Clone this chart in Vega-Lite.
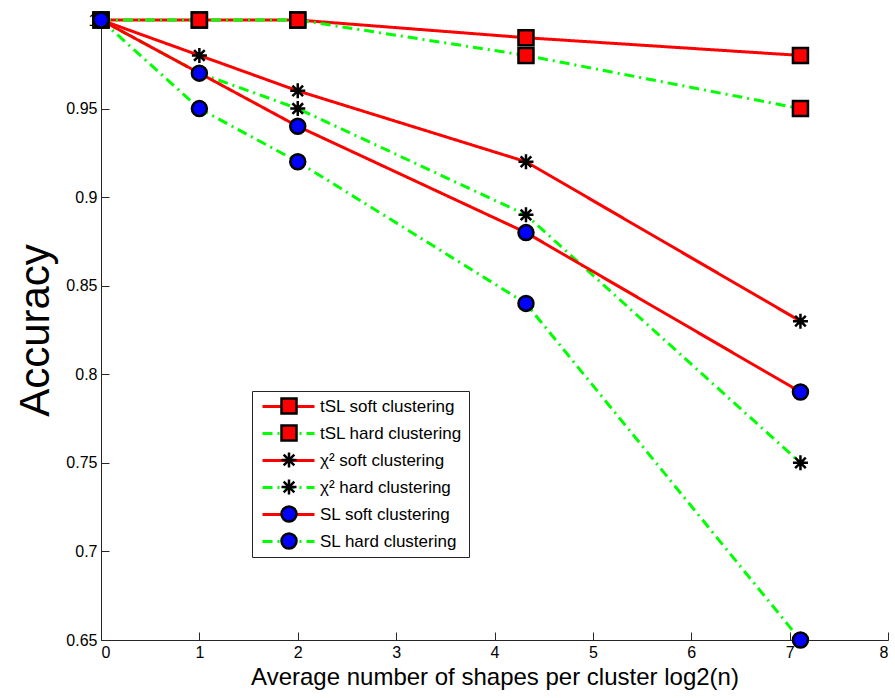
{
  "$schema": "https://vega.github.io/schema/vega-lite/v6.json",
  "width": 787,
  "height": 620,
  "autosize": {"type": "none"},
  "padding": {"left": 101, "top": 20, "right": 7, "bottom": 58},
  "background": "white",
  "config": {
    "view": {"stroke": null},
    "font": "Liberation Sans",
    "axis": {
      "grid": false,
      "domainColor": "#262626",
      "domainWidth": 1,
      "tickColor": "#262626",
      "tickSize": -8,
      "tickWidth": 1,
      "labelColor": "#000000",
      "labelFontSize": 16,
      "labelFont": "Liberation Sans",
      "titleFont": "Liberation Sans",
      "titleFontWeight": "normal",
      "titleColor": "#000000"
    }
  },
  "data": {
    "values": [
      {"x": 0, "acc": 1.0, "series": "tSL soft clustering", "marker": "tSL soft"},
      {"x": 1, "acc": 1.0, "series": "tSL soft clustering", "marker": "tSL soft"},
      {"x": 2, "acc": 1.0, "series": "tSL soft clustering", "marker": "tSL soft"},
      {"x": 4.32, "acc": 0.99, "series": "tSL soft clustering", "marker": "tSL soft"},
      {"x": 7.11, "acc": 0.98, "series": "tSL soft clustering", "marker": "tSL soft"},
      {"x": 0, "acc": 1.0, "series": "tSL hard clustering", "marker": "tSL hard"},
      {"x": 1, "acc": 1.0, "series": "tSL hard clustering", "marker": "tSL hard"},
      {"x": 2, "acc": 1.0, "series": "tSL hard clustering", "marker": "tSL hard"},
      {"x": 4.32, "acc": 0.98, "series": "tSL hard clustering", "marker": "tSL hard"},
      {"x": 7.11, "acc": 0.95, "series": "tSL hard clustering", "marker": "tSL hard"},
      {"x": 0, "acc": 1.0, "series": "χ² soft clustering", "marker": "chi2 soft"},
      {"x": 1, "acc": 0.98, "series": "χ² soft clustering", "marker": "chi2 soft"},
      {"x": 2, "acc": 0.96, "series": "χ² soft clustering", "marker": "chi2 soft"},
      {"x": 4.32, "acc": 0.92, "series": "χ² soft clustering", "marker": "chi2 soft"},
      {"x": 7.11, "acc": 0.83, "series": "χ² soft clustering", "marker": "chi2 soft"},
      {"x": 0, "acc": 1.0, "series": "χ² hard clustering", "marker": "chi2 hard"},
      {"x": 1, "acc": 0.97, "series": "χ² hard clustering", "marker": "chi2 hard"},
      {"x": 2, "acc": 0.95, "series": "χ² hard clustering", "marker": "chi2 hard"},
      {"x": 4.32, "acc": 0.89, "series": "χ² hard clustering", "marker": "chi2 hard"},
      {"x": 7.11, "acc": 0.75, "series": "χ² hard clustering", "marker": "chi2 hard"},
      {"x": 0, "acc": 1.0, "series": "SL soft clustering", "marker": "SL soft"},
      {"x": 1, "acc": 0.97, "series": "SL soft clustering", "marker": "SL soft"},
      {"x": 2, "acc": 0.94, "series": "SL soft clustering", "marker": "SL soft"},
      {"x": 4.32, "acc": 0.88, "series": "SL soft clustering", "marker": "SL soft"},
      {"x": 7.11, "acc": 0.79, "series": "SL soft clustering", "marker": "SL soft"},
      {"x": 0, "acc": 1.0, "series": "SL hard clustering", "marker": "SL hard"},
      {"x": 1, "acc": 0.95, "series": "SL hard clustering", "marker": "SL hard"},
      {"x": 2, "acc": 0.92, "series": "SL hard clustering", "marker": "SL hard"},
      {"x": 4.32, "acc": 0.84, "series": "SL hard clustering", "marker": "SL hard"},
      {"x": 7.11, "acc": 0.65, "series": "SL hard clustering", "marker": "SL hard"}
    ]
  },
  "encoding": {
    "x": {
      "field": "x",
      "type": "quantitative",
      "scale": {"domain": [0, 8], "nice": false, "zero": false},
      "axis": {
        "values": [0, 1, 2, 3, 4, 5, 6, 7, 8],
        "format": "~g",
        "title": "Average number of shapes per cluster  log2(n)",
        "titleFontSize": 24,
        "labelPadding": 12,
        "titlePadding": 5
      }
    },
    "y": {
      "field": "acc",
      "type": "quantitative",
      "scale": {"domain": [0.65, 1.0], "nice": false, "zero": false},
      "axis": {
        "values": [0.65, 0.7, 0.75, 0.8, 0.85, 0.9, 0.95, 1.0],
        "format": "~g",
        "title": "Accuracy",
        "titleFontSize": 42,
        "labelPadding": 12,
        "titlePadding": 8
      }
    }
  },
  "layer": [
    {
      "mark": {"type": "line", "strokeWidth": 3, "clip": false},
      "encoding": {
        "color": {
          "field": "series",
          "type": "nominal",
          "scale": {
            "domain": ["tSL soft clustering", "tSL hard clustering", "χ² soft clustering", "χ² hard clustering", "SL soft clustering", "SL hard clustering"],
            "range": ["#ff0000", "#00ff00", "#ff0000", "#00ff00", "#ff0000", "#00ff00"]
          },
          "legend": {
            "title": null,
            "orient": "none",
            "legendX": 151,
            "legendY": 371,
            "padding": 7,
            "fillColor": "white",
            "strokeColor": "#262626",
            "symbolType": "M-5.2,0H5.2",
            "symbolSize": 100,
            "symbolStrokeWidth": 3,
            "symbolOffset": 21,
            "labelOffset": 23,
            "labelFontSize": 17,
            "labelFont": "Liberation Sans",
            "labelColor": "#000000",
            "rowPadding": 9,
            "zindex": 1
          }
        },
        "strokeDash": {
          "field": "series",
          "type": "nominal",
          "scale": {
            "domain": ["tSL soft clustering", "tSL hard clustering", "χ² soft clustering", "χ² hard clustering", "SL soft clustering", "SL hard clustering"],
            "range": [[1, 0], [10, 5, 2, 5], [1, 0], [10, 5, 2, 5], [1, 0], [10, 5, 2, 5]]
          }
        }
      }
    },
    {
      "mark": {"type": "point", "stroke": "#000000", "strokeWidth": 2.5, "opacity": 1, "fillOpacity": 1, "clip": false},
      "encoding": {
        "fill": {
          "field": "marker",
          "type": "nominal",
          "scale": {
            "domain": ["tSL soft", "tSL hard", "chi2 soft", "chi2 hard", "SL soft", "SL hard"],
            "range": ["#ff0000", "#ff0000", "#000000", "#000000", "#0000ff", "#0000ff"]
          },
          "legend": {
            "title": null,
            "orient": "none",
            "legendX": 179,
            "legendY": 377,
            "padding": 0,
            "symbolOffset": 0,
            "symbolStrokeColor": "#000000",
            "symbolStrokeWidth": 2.5,
            "symbolFillOpacity": 1,
            "symbolOpacity": 1,
            "labelExpr": "''",
            "labelFontSize": 17,
            "rowPadding": 1,
            "zindex": 2
          }
        },
        "shape": {
          "field": "marker",
          "type": "nominal",
          "scale": {
            "domain": ["tSL soft", "tSL hard", "chi2 soft", "chi2 hard", "SL soft", "SL hard"],
            "range": ["square", "square", "M0,-1L0,1M-1,0L1,0M-0.71,-0.71L0.71,0.71M-0.71,0.71L0.71,-0.71", "M0,-1L0,1M-1,0L1,0M-0.71,-0.71L0.71,0.71M-0.71,0.71L0.71,-0.71", "circle", "circle"]
          }
        },
        "size": {
          "field": "marker",
          "type": "nominal",
          "scale": {
            "domain": ["tSL soft", "tSL hard", "chi2 soft", "chi2 hard", "SL soft", "SL hard"],
            "range": [225, 225, 256, 256, 324, 324]
          }
        }
      }
    }
  ]
}
